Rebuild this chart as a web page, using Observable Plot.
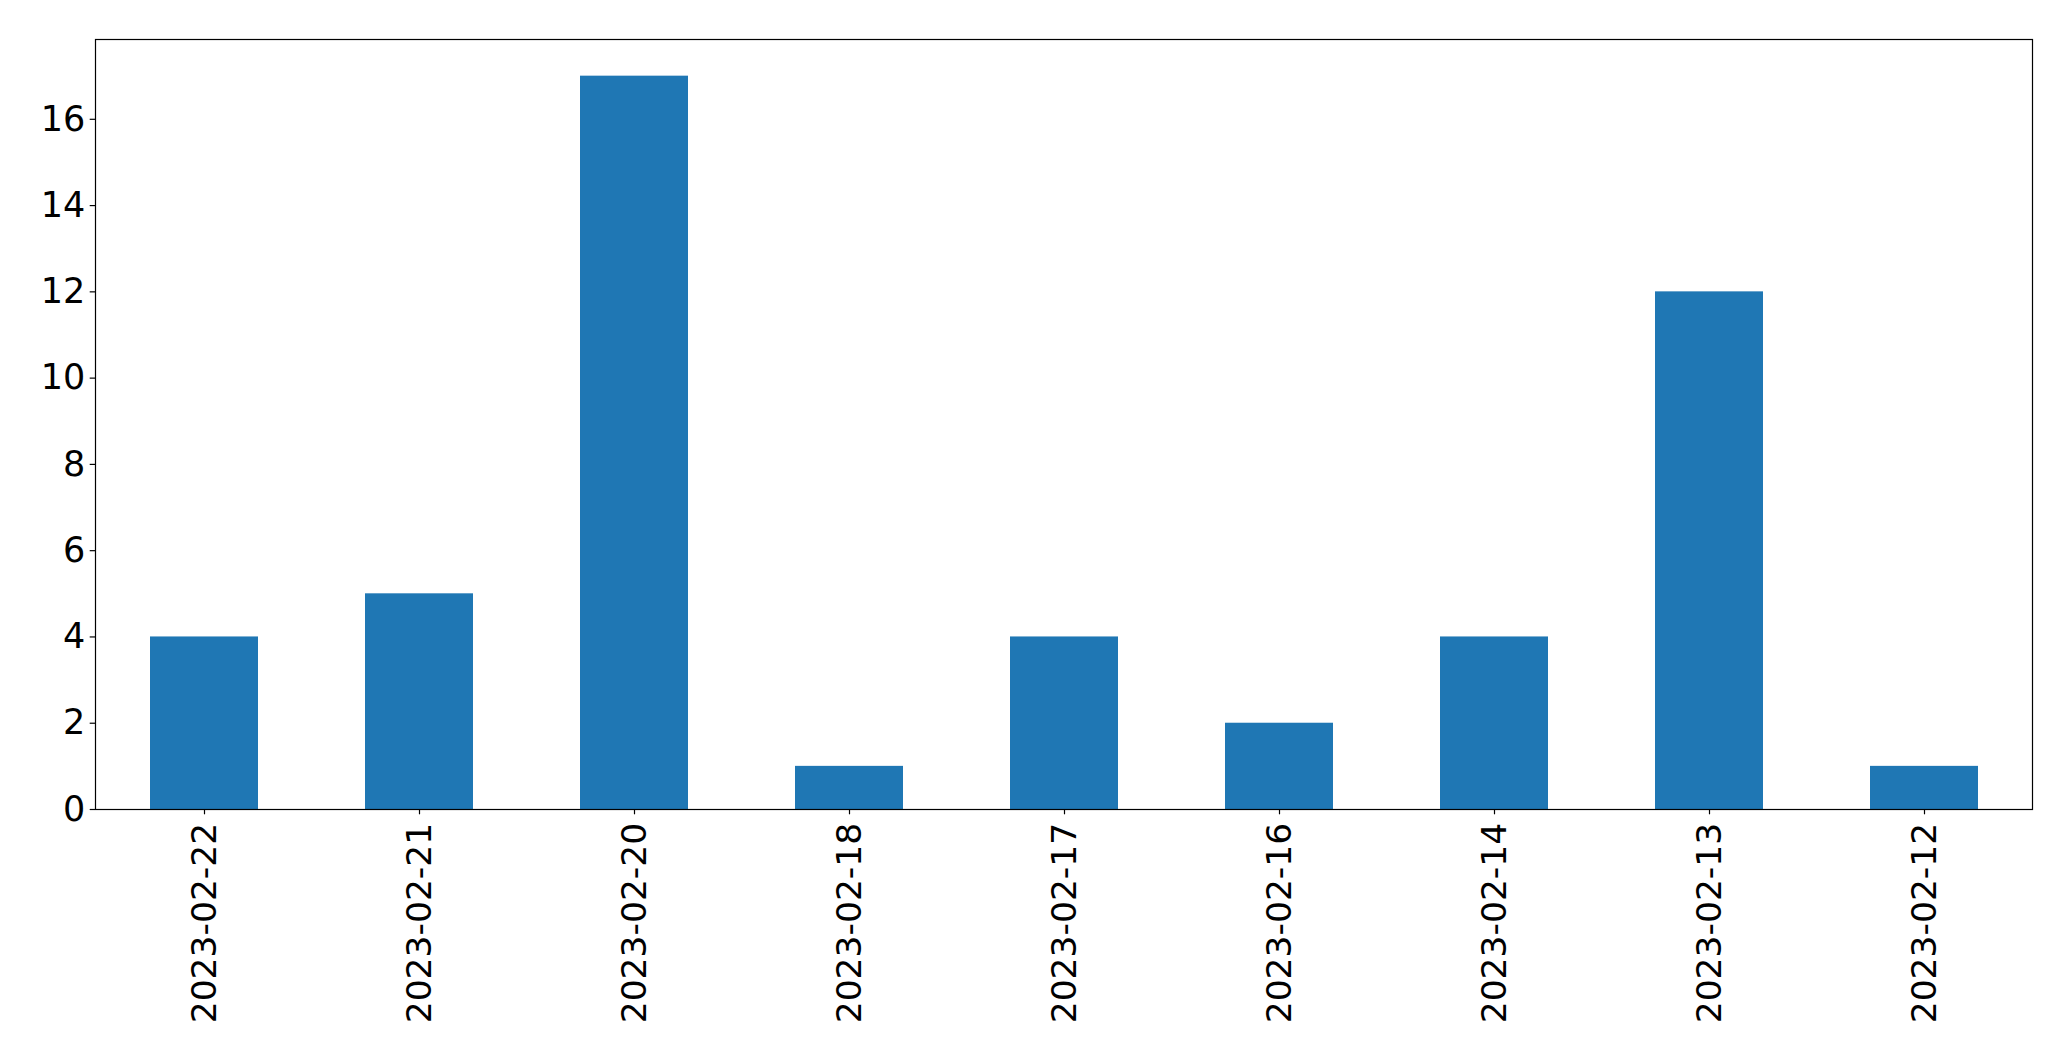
<!DOCTYPE html>
<html>
<head>
<meta charset="utf-8">
<script src="https://cdn.jsdelivr.net/npm/d3@7"></script>
<script src="https://cdn.jsdelivr.net/npm/@observablehq/plot@0.6"></script>
<style>
  html, body { margin: 0; padding: 0; background: #fff; overflow: hidden; }
  #chart svg { display: block; }
</style>
</head>
<body>
<div id="chart"></div>
<script>
const dates = ["2023-02-22", "2023-02-21", "2023-02-20", "2023-02-18", "2023-02-17", "2023-02-16", "2023-02-14", "2023-02-13", "2023-02-12"];
const counts = [4, 5, 17, 1, 4, 2, 4, 12, 1];
const yTicks = [0, 2, 4, 6, 8, 10, 12, 14, 16];

const table = dates.map((d, i) => ({date: d, count: counts[i]}));

const chart = Plot.plot({
  width: 2071,
  height: 1061,
  marginLeft: 95,
  marginRight: 39,
  marginTop: 39,
  marginBottom: 252,
  style: {fontFamily: "DejaVu Sans", fontSize: "35px", color: "black", background: "white"},
  x: {type: "band", domain: dates, paddingInner: 0.5, paddingOuter: 0.25, label: null},
  y: {domain: [0, 17.85], label: null},
  marks: [
    Plot.barY(table, {x: "date", y: "count", fill: "#1f77b4"}),
    Plot.frame({stroke: "black", strokeWidth: 1.2}),
    Plot.axisY({ticks: yTicks, tickSize: 5.3, tickPadding: 5, fontSize: 35, label: null, strokeWidth: 1.2}),
    Plot.axisX({tickRotate: -90, tickSize: 5.3, tickPadding: 8, fontSize: 34.5, label: null, strokeWidth: 1.2})
  ]
});
document.getElementById("chart").appendChild(chart);
</script>
</body>
</html>
